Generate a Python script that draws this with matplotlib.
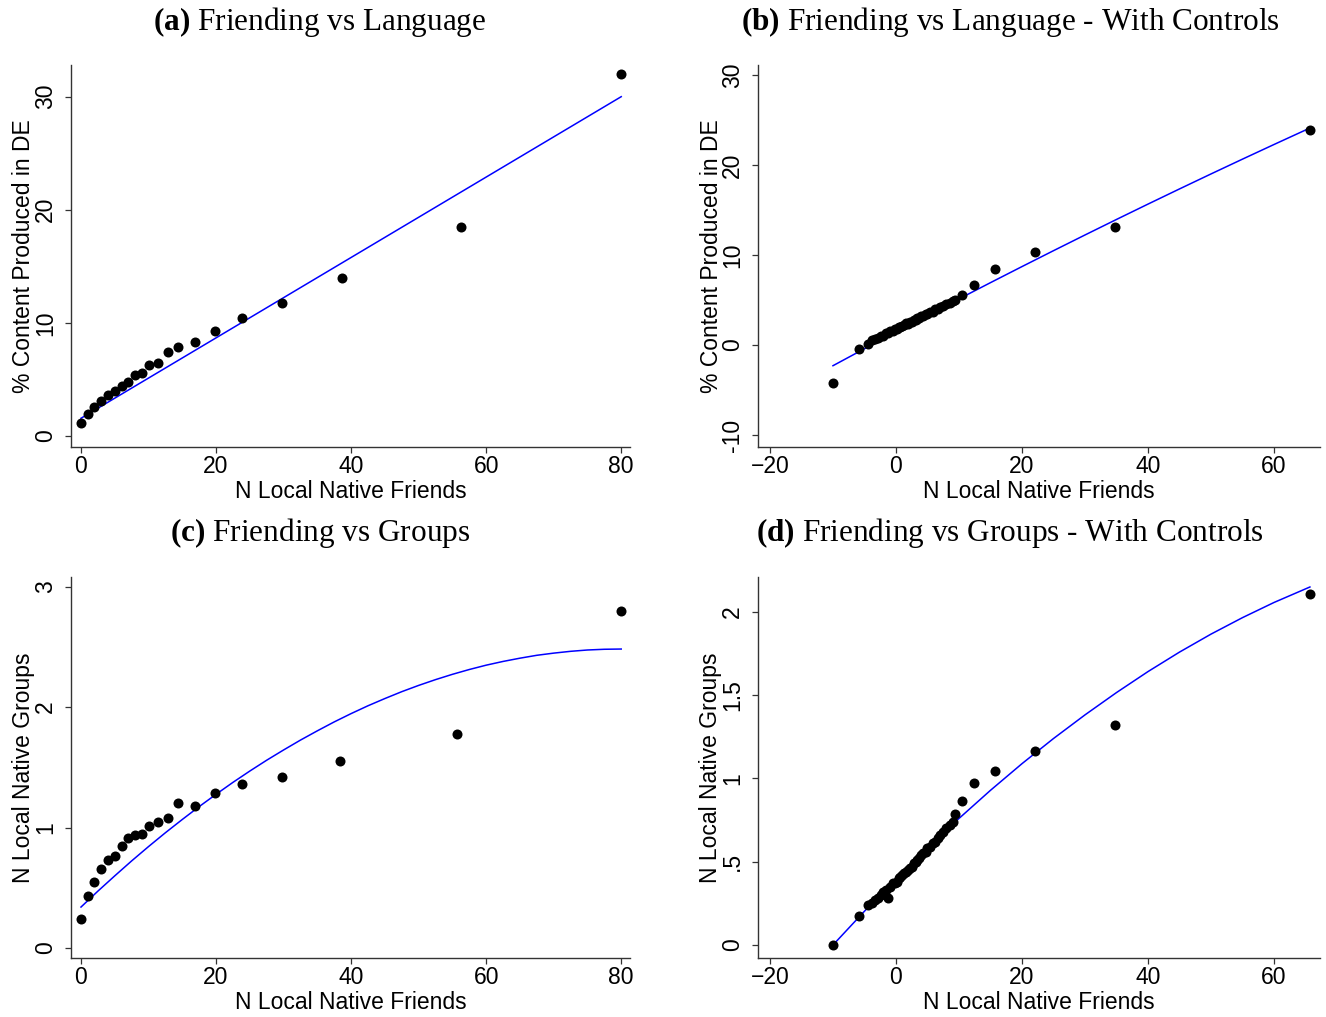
import matplotlib
matplotlib.use("Agg")
import matplotlib.pyplot as plt

# --- data ---
a_x = [0.0, 1.0, 2.0, 3.0, 4.0, 5.0, 6.0, 7.0, 8.0, 9.0, 10.0, 11.45, 12.9, 14.4,
       16.9, 19.85, 23.8, 29.7, 38.7, 56.3, 80.0]
a_y = [1.18, 1.95, 2.6, 3.1, 3.6, 4.0, 4.4, 4.8, 5.4, 5.6, 6.3, 6.5, 7.4, 7.9,
       8.35, 9.3, 10.4, 11.8, 14.0, 18.45, 32.0]
a_fit_x = [0.0, 80.0]
a_fit_y = [1.57, 30.0]

c_x = [0.0, 1.0, 2.0, 3.0, 4.0, 5.0, 6.0, 7.0, 8.0, 9.0, 10.0, 11.45, 12.9, 14.4,
       16.9, 19.85, 23.8, 29.7, 38.4, 55.65, 80.0]
c_y = [0.24, 0.43, 0.55, 0.66, 0.73, 0.76, 0.85, 0.91, 0.94, 0.95, 1.01, 1.05, 1.08, 1.20,
       1.18, 1.29, 1.36, 1.42, 1.55, 1.78, 2.80]
c_fit_x = [0, 2.5, 5, 7.5, 10, 12.5, 15, 17.5, 20, 22.5, 25, 27.5, 30, 32.5, 35, 37.5,
           40, 42.5, 45, 47.5, 50, 52.5, 55, 57.5, 60, 62.5, 65, 67.5, 70, 72.5, 75,
           77.5, 80]
c_fit_y = [0.340, 0.472, 0.599, 0.723, 0.842, 0.957, 1.067, 1.174, 1.276, 1.375, 1.469,
           1.559, 1.644, 1.726, 1.803, 1.877, 1.946, 2.011, 2.071, 2.128, 2.180, 2.228,
           2.272, 2.312, 2.348, 2.379, 2.406, 2.430, 2.448, 2.463, 2.474, 2.480, 2.482]

# residualised ("with controls") bins, shared x for (b) and (d)
bd_x = [-10.05, -5.8, -4.4, -3.8, -3.3, -2.9, -2.4, -2.0, -1.6, -1.2, -0.9, -0.5, -0.2,
        0.1, 0.4, 0.7, 1.0, 1.3, 1.6, 1.9, 2.2, 2.5, 2.8, 3.1, 3.4, 3.7, 4.0, 4.3, 4.7,
        5.0, 5.4, 5.8, 6.2, 6.6, 7.0, 7.5, 8.0, 8.5, 9.0, 9.4, 10.5, 12.4, 15.7, 22.0,
        34.76, 65.7]
b_y = [-4.2, -0.5, 0.1, 0.5, 0.7, 0.75, 1.0, 1.05, 1.3, 1.35, 1.5, 1.55, 1.75,
       1.8, 1.95, 2.0, 2.15, 2.2, 2.4, 2.35, 2.6, 2.6, 2.8, 2.8, 3.0, 2.95, 3.2, 3.2, 3.45,
       3.45, 3.7, 3.7, 4.0, 3.95, 4.25, 4.3, 4.6, 4.65, 4.9, 5.0, 5.6, 6.7, 8.4, 10.37,
       13.08, 23.9]
d_y = [0.0, 0.174, 0.24, 0.25, 0.27, 0.28, 0.30, 0.32, 0.33, 0.28, 0.35, 0.37, 0.37,
       0.38, 0.40, 0.41, 0.42, 0.43, 0.44, 0.45, 0.46, 0.47, 0.49, 0.50, 0.51, 0.52, 0.54,
       0.55, 0.56, 0.58, 0.59, 0.61, 0.62, 0.64, 0.66, 0.68, 0.70, 0.72, 0.74, 0.787,
       0.865, 0.973, 1.045, 1.163, 1.32, 2.108]
bd_fit_x = [-10, -5, 0, 5, 10, 15, 20, 25, 30, 35, 40, 45, 50, 55, 60, 65.7]
b_fit_y = [-2.30, -0.415, 1.45, 3.295, 5.12, 6.925, 8.71, 10.475, 12.22, 13.945, 15.65,
           17.335, 19.0, 20.645, 22.27, 24.10]
d_fit_y = [0.0, 0.203, 0.397, 0.583, 0.760, 0.929, 1.089, 1.240, 1.382, 1.516, 1.642,
           1.759, 1.867, 1.966, 2.057, 2.150]

titles = [r"$\mathbf{(a)}$ Friending vs Language",
          r"$\mathbf{(b)}$ Friending vs Language - With Controls",
          r"$\mathbf{(c)}$ Friending vs Groups",
          r"$\mathbf{(d)}$ Friending vs Groups - With Controls"]
xlabel = "N Local Native Friends"
ylab_lang = "% Content Produced in DE"
ylab_grp = "N Local Native Groups"

plt.rcParams["font.family"] = ["Liberation Sans", "DejaVu Sans"]
plt.rcParams["mathtext.fontset"] = "custom"
plt.rcParams["mathtext.rm"] = "Liberation Serif"
plt.rcParams["mathtext.bf"] = "Liberation Serif:bold"

W, H = 1326, 1017
fig = plt.figure(figsize=(W / 100, H / 100), dpi=100)


def px_axes(l, t, r, b):
    return fig.add_axes([l / W, 1 - b / H, (r - l) / W, (b - t) / H])


def style(ax, xt, yt, ytl, ylab):
    for s in ("top", "right"):
        ax.spines[s].set_visible(False)
    for s in ("left", "bottom"):
        ax.spines[s].set_color("#333333")
        ax.spines[s].set_linewidth(1.0)
    ax.set_xticks(xt)
    ax.set_yticks(yt)
    ax.set_yticklabels(ytl, rotation=90, va="center")
    ax.tick_params(direction="out", length=4, width=0.9, color="#333333",
                   labelsize=16.5)
    ax.tick_params(axis="x", pad=2)
    ax.tick_params(axis="y", pad=6)
    ax.set_xlabel(xlabel, fontsize=16.5, labelpad=1)
    ax.set_ylabel(ylab, fontsize=16.5, labelpad=-1)


def draw(ax, x, y, fx, fy):
    ax.plot(fx, fy, color="#0000ff", lw=1.1, zorder=2)
    ax.scatter(x, y, s=52, color="black", zorder=3, linewidths=0)


ax_a = px_axes(71, 65, 630, 447)
draw(ax_a, a_x, a_y, a_fit_x, a_fit_y)
ax_a.set_xlim(-1.48, 81.3)
ax_a.set_ylim(-0.97, 32.8)
style(ax_a, [0, 20, 40, 60, 80], [0, 10, 20, 30], ["0", "10", "20", "30"], ylab_lang)

ax_b = px_axes(758, 65, 1320, 447)
draw(ax_b, bd_x, b_y, bd_fit_x, b_fit_y)
ax_b.set_xlim(-21.9, 67.3)
ax_b.set_ylim(-11.33, 31.1)
style(ax_b, [-20, 0, 20, 40, 60], [-10, 0, 10, 20, 30],
      ["-10", "0", "10", "20", "30"], ylab_lang)

ax_c = px_axes(71, 577, 630, 958)
draw(ax_c, c_x, c_y, c_fit_x, c_fit_y)
ax_c.set_xlim(-1.48, 81.3)
ax_c.set_ylim(-0.083, 3.08)
style(ax_c, [0, 20, 40, 60, 80], [0, 1, 2, 3], ["0", "1", "2", "3"], ylab_grp)

ax_d = px_axes(758, 577, 1320, 958)
draw(ax_d, bd_x, d_y, bd_fit_x, d_fit_y)
ax_d.set_xlim(-21.9, 67.3)
ax_d.set_ylim(-0.078, 2.21)
style(ax_d, [-20, 0, 20, 40, 60], [0, 0.5, 1, 1.5, 2],
      ["0", ".5", "1", "1.5", "2"], ylab_grp)

title_pos = [(320, 22), (1010, 22), (320, 533), (1010, 533)]
for t, (x, y) in zip(titles, title_pos):
    fig.text(x / W, 1 - y / H, t, fontsize=22.5, ha="center", va="center",
             family="Liberation Serif")

fig.savefig("out.png", dpi=100, facecolor="white")
